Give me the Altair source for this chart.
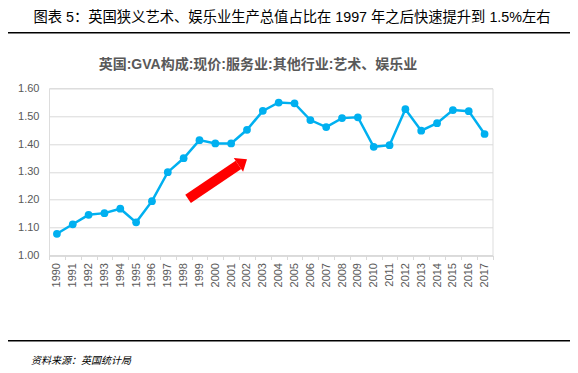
import altair as alt
import pandas as pd

years = [str(y) for y in range(1990, 2018)]
values = [1.078, 1.112, 1.146, 1.152, 1.168, 1.119, 1.195, 1.299, 1.349, 1.414,
          1.402, 1.402, 1.451, 1.519, 1.549, 1.546, 1.486, 1.461, 1.493, 1.496,
          1.390, 1.396, 1.525, 1.448, 1.475, 1.522, 1.518, 1.436]
y_ticks = [1.0, 1.1, 1.2, 1.3, 1.4, 1.5, 1.6]

# annotation arrow (x in band-index units, y in data units)
arrow_x = [8.78, 11.96]
arrow_y = [1.203, 1.325]

title_text = "图表 5：英国狭义艺术、娱乐业生产总值占比在 1997 年之后快速提升到 1.5%左右"
subtitle_text = "英国:GVA构成:现价:服务业:其他行业:艺术、娱乐业"
source_text = "资料来源：英国统计局"

df = pd.DataFrame({"year": years, "value": values})
W, H = 443.5, 167.2
FONT = "Liberation Sans, Noto Sans CJK SC"
GRAY = "#595959"
BLUE = "#00B0F0"

xscale = alt.Scale(type="band", paddingInner=0, paddingOuter=0)
yscale = alt.Scale(domain=[1.0, 1.6], nice=False, zero=False)
xenc = alt.X("year:O", sort=years, scale=xscale,
             axis=alt.Axis(title=None, labelAngle=-90, labelFont=FONT, labelFontSize=11,
                           labelColor=GRAY, domainColor="#D9D9D9", domainWidth=1.5,
                           tickColor="#D9D9D9", tickSize=4, tickBand="extent",
                           labelPadding=3, grid=False))
yenc = alt.Y("value:Q", scale=yscale,
             axis=alt.Axis(title=None, values=y_ticks, format=".2f", labelFont=FONT,
                           labelFontSize=11, labelColor=GRAY, domain=False, ticks=False,
                           tickSize=0, labelPadding=10, gridColor="#D9D9D9", gridWidth=1))

base = alt.Chart(df)
line = base.mark_line(color=BLUE, strokeWidth=2.5).encode(x=xenc, y=yenc)
pts = base.mark_point(color=BLUE, filled=True, opacity=1, size=60).encode(
    x=alt.X("year:O", sort=years, scale=xscale, axis=None),
    y=alt.Y("value:Q", scale=yscale, axis=None))

adf = pd.DataFrame({"x": [arrow_x[0]], "x2": [arrow_x[1]], "y": [arrow_y[0]], "y2": [arrow_y[1]]})
ax = alt.X("x:Q", scale=alt.Scale(domain=[0, 28], nice=False, zero=False), axis=None)
ay = alt.Y("y:Q", scale=yscale, axis=None)
shaft = alt.Chart(adf).mark_rule(color="#FF0000", strokeWidth=10, strokeCap="butt").encode(
    x=ax, x2="x2:Q", y=ay, y2="y2:Q")
hdf = pd.DataFrame({"x": [arrow_x[1]], "y": [arrow_y[1]]})
head = alt.Chart(hdf).mark_point(shape="M0,-1.3L1.05,0L-1.05,0Z", filled=True, opacity=1,
                                 color="#FF0000", size=250, angle=56).encode(x=ax, y=ay)

dummy = pd.DataFrame({"a": [0]})
title = alt.Chart(dummy).mark_text(text=title_text, font=FONT, fontSize=14.3, color="#000000",
                                   align="center", baseline="middle").encode(
    x=alt.value(243), y=alt.value(-70))
subtitle = alt.Chart(dummy).mark_text(text=subtitle_text, font=FONT, fontSize=14, fontWeight="bold",
                                      color=GRAY, align="center", baseline="middle").encode(
    x=alt.value(209), y=alt.value(-23.5))
source = alt.Chart(dummy).mark_text(text=source_text, font=FONT, fontSize=10, fontStyle="italic",
                                    color="#000000", align="left", baseline="middle").encode(
    x=alt.value(-18), y=alt.value(272.5))
top_rule = alt.Chart(dummy).mark_rule(color="#000000", strokeWidth=1.5).encode(
    x=alt.value(-42), x2=alt.value(521), y=alt.value(-55.5))
bot_rule = alt.Chart(dummy).mark_rule(color="#000000", strokeWidth=1.5).encode(
    x=alt.value(-42), x2=alt.value(521), y=alt.value(252.5))

chart = alt.layer(line, pts, shaft, head, title, subtitle, source, top_rule, bot_rule).resolve_scale(
    x="independent", y="independent"
).resolve_axis(x="independent", y="independent").properties(
    width=W, height=H,
    autosize=alt.AutoSizeParams(type="none"),
    padding={"left": 41, "top": 80.3, "right": 77, "bottom": 109},
).configure_view(stroke=None).configure(background="white")

chart.save("out.html", embed_options={"renderer": "svg", "actions": False})
